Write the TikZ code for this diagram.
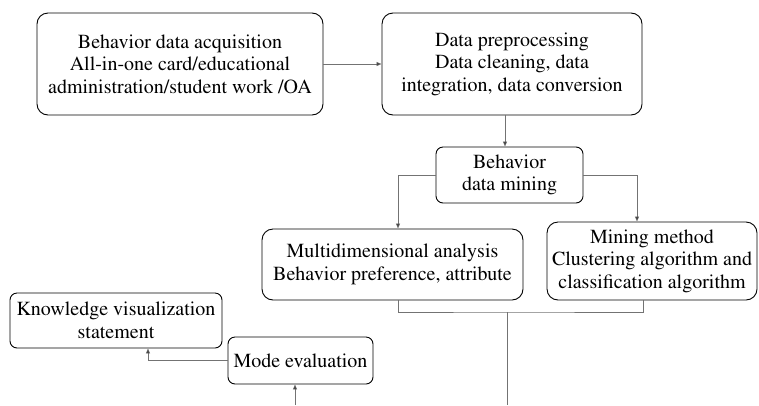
\documentclass[tikz,border=0pt]{standalone}
\usepackage[T1]{fontenc}
\usepackage{mathptmx}
\usetikzlibrary{arrows.meta}
\begin{document}
\begin{tikzpicture}[x=1pt,y=-1pt,
  box/.style={draw=black,line width=0.9pt,rounded corners=11pt,align=center,
    font=\fontsize{20}{22.5}\selectfont,inner sep=2pt},
  sbox/.style={box,rounded corners=7pt},
  conn/.style={draw=black!55,line width=0.8pt},
  arr/.style={conn,-{Triangle[length=5pt,width=4pt,fill=black]}}]
\useasboundingbox (0,0) rectangle (759,405);
\node[box,minimum width=286pt,minimum height=102pt] (acq) at (180,64)
  {Behavior data acquisition\\All-in-one card/educational\\administration/student work /OA};
\node[box,minimum width=260pt,minimum height=102pt] (pre) at (512,64)
  {Data preprocessing\\Data cleaning, data\\integration, data conversion};
\node[sbox,minimum width=147pt,minimum height=56pt] (bdm) at (509.5,175)
  {Behavior\\data mining};
\node[box,minimum width=261pt,minimum height=71pt] (multi) at (392.5,264.5)
  {Multidimensional analysis\\Behavior preference, attribute};
\node[box,minimum width=210pt,minimum height=78pt] (mine) at (652,261)
  {Mining method\\Clustering algorithm and\\classification algorithm};
\node[sbox,minimum width=212pt,minimum height=55pt] (know) at (116,320.5)
  {Knowledge visualization\\statement};
\node[sbox,minimum width=145pt,minimum height=47pt] (mode) at (300.5,360.5)
  {Mode evaluation};
\coordinate (xa) at (505,0);
\coordinate (xl) at (398,0);
\coordinate (xr) at (637,0);
\coordinate (xr2) at (643,0);
\coordinate (join) at (507,312);
\coordinate (bot) at (507,405);
\coordinate (mbot) at (295,405);
\coordinate (xk) at (148,0);
\draw[arr] (acq.east) -- (pre.west);
\draw[arr] (pre.south -| xa) -- (bdm.north -| xa);
\draw[arr] (bdm.west) -| (multi.north -| xl);
\draw[arr] (bdm.east) -| (mine.north -| xr);
\draw[conn] (multi.south -| xl) |- (join) -| (mine.south -| xr2);
\draw[conn] (join) -- (bot);
\draw[arr] (mbot) -- (mode.south -| mbot);
\draw[arr] (mode.west) -| (know.south -| xk);
\end{tikzpicture}
\end{document}
